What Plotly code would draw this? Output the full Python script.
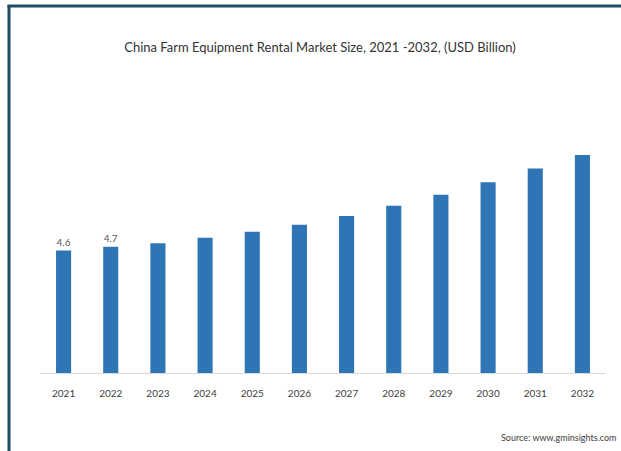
import plotly.graph_objects as go

years = ["2021", "2022", "2023", "2024", "2025", "2026", "2027", "2028", "2029", "2030", "2031", "2032"]
market_size = [4.6, 4.74, 4.87, 5.08, 5.30, 5.57, 5.90, 6.28, 6.69, 7.16, 7.68, 8.19]
bar_labels = ["4.6", "4.7", "", "", "", "", "", "", "", "", "", ""]

title_text = "China Farm Equipment Rental Market Size, 2021 -2032, (USD Billion)"
source_text = "Source: www.gminsights.com"

FONT = "Lato, sans-serif"

W, H = 621, 451
ML, MR, MT, MB = 40, 15, 130, 78
PW = W - ML - MR
PH = H - MT - MB


def px_x(x):
    return (x - ML) / PW


def px_y(y):
    return (H - MB - y) / PH


fig = go.Figure()
fig.add_trace(go.Bar(
    x=years,
    y=market_size,
    text=bar_labels,
    textposition="outside",
    textfont=dict(family=FONT, size=10, color="#595959"),
    marker=dict(color="#2e75b6", line=dict(width=0)),
    cliponaxis=False,
    hoverinfo="x+y",
))

border = "#1d4d60"
fig.update_layout(
    width=W,
    height=H,
    margin=dict(l=ML, r=MR, t=MT, b=MB, pad=0),
    paper_bgcolor="white",
    plot_bgcolor="white",
    bargap=0.68,
    showlegend=False,
    title=dict(
        text=title_text,
        x=320 / W,
        xanchor="center",
        y=1 - 47 / H,
        yanchor="middle",
        font=dict(family=FONT, size=13, color="#333333"),
    ),
    xaxis=dict(
        type="category",
        showgrid=False,
        showline=True,
        linecolor="#d9d9d9",
        linewidth=1,
        ticks="",
        tickfont=dict(family=FONT, size=10, color="#404040"),
        ticklabelstandoff=11,
    ),
    yaxis=dict(
        range=[0, PH / 26.63],
        visible=False,
        showgrid=False,
        zeroline=False,
    ),
    shapes=[
        dict(type="line", xref="paper", yref="paper",
             x0=px_x(9), x1=px_x(9), y0=px_y(5), y1=px_y(H + 2),
             line=dict(color=border, width=3)),
        dict(type="line", xref="paper", yref="paper",
             x0=px_x(7.5), x1=px_x(W + 2), y0=px_y(6), y1=px_y(6),
             line=dict(color=border, width=3)),
    ],
    annotations=[
        dict(text=source_text, xref="paper", yref="paper",
             x=px_x(618), y=px_y(437), xanchor="right", yanchor="middle",
             showarrow=False,
             font=dict(family=FONT, size=9, color="#404040")),
    ],
)

fig.write_html("out.html", config={"displayModeBar": False},
               post_script="document.body.style.margin='0';")
